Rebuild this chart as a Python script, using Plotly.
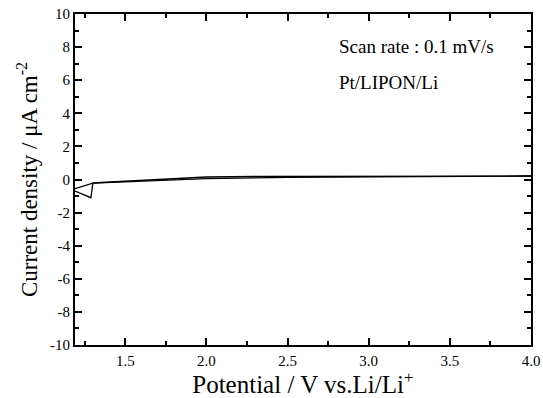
import plotly.graph_objects as go

# Anodic (forward) scan
fwd_v = [1.19, 1.22, 1.26, 1.30, 1.35, 1.45, 1.60, 1.80, 2.00, 2.30, 2.70, 3.00, 3.50, 4.00]
fwd_i = [-0.55, -0.45, -0.32, -0.22, -0.18, -0.13, -0.05, 0.05, 0.15, 0.18, 0.19, 0.19, 0.20, 0.21]
# Cathodic (reverse) scan
rev_v = [4.00, 3.50, 3.00, 2.50, 2.00, 1.70, 1.50, 1.38, 1.30, 1.288, 1.24, 1.19]
rev_i = [0.21, 0.19, 0.17, 0.13, 0.05, -0.05, -0.12, -0.18, -0.22, -1.10, -0.90, -0.70]

x_ticks = [1.5, 2.0, 2.5, 3.0, 3.5, 4.0]
x_labels = ["1.5", "2.0", "2.5", "3.0", "3.5", "4.0"]
y_ticks = [-10, -8, -6, -4, -2, 0, 2, 4, 6, 8, 10]
y_labels = ["-10", "-8", "-6", "-4", "-2", "0", "2", "4", "6", "8", "10"]

fig = go.Figure()
fig.add_trace(go.Scatter(x=fwd_v, y=fwd_i, mode="lines",
                         line=dict(color="black", width=1.3), showlegend=False))
fig.add_trace(go.Scatter(x=rev_v, y=rev_i, mode="lines",
                         line=dict(color="black", width=1.3), showlegend=False))

font_family = "Liberation Serif, Times New Roman, serif"
axis_common = dict(showgrid=False, zeroline=False, showline=True, linecolor="black",
                   linewidth=2, mirror="ticks", ticks="inside", ticklen=7, tickwidth=1.5,
                   tickcolor="black", automargin=False,
                   tickfont=dict(family=font_family, size=15, color="black"),
                   minor=dict(ticks="inside", ticklen=4, tickwidth=1.5, tickcolor="black"))

fig.update_xaxes(range=[1.19, 4.0], tickvals=x_ticks, ticktext=x_labels,
                 minor_dtick=0.25, minor_tick0=1.25, ticklabelstandoff=1,
                 title=dict(text="Potential / V vs.Li/Li<sup>+</sup>",
                            font=dict(family=font_family, size=25, color="black"), standoff=0),
                 **axis_common)
fig.update_yaxes(range=[-10, 10], tickvals=y_ticks, ticktext=y_labels,
                 minor_dtick=1, minor_tick0=-10,
                 title=dict(text="Current density / μA cm<sup>-2</sup>",
                            font=dict(family=font_family, size=23, color="black"), standoff=6),
                 **axis_common)

fig.add_annotation(xref="paper", yref="paper", x=(337 - 75) / 456, y=1 - (47 - 14) / 331,
                   xanchor="left", yanchor="middle", text="Scan rate : 0.1 mV/s",
                   showarrow=False, font=dict(family=font_family, size=19, color="black"))
fig.add_annotation(xref="paper", yref="paper", x=(337 - 75) / 456, y=1 - (82 - 14) / 331,
                   xanchor="left", yanchor="middle", text="Pt/LIPON/Li",
                   showarrow=False, font=dict(family=font_family, size=19, color="black"))

fig.update_layout(width=543, height=398, margin=dict(l=75, r=12, t=14, b=53),
                  paper_bgcolor="white", plot_bgcolor="white")
fig.write_html("out.html", config={"displayModeBar": False},
               post_script="document.body.style.margin='0';document.body.style.padding='0';"
                           "document.body.style.overflow='hidden';")
